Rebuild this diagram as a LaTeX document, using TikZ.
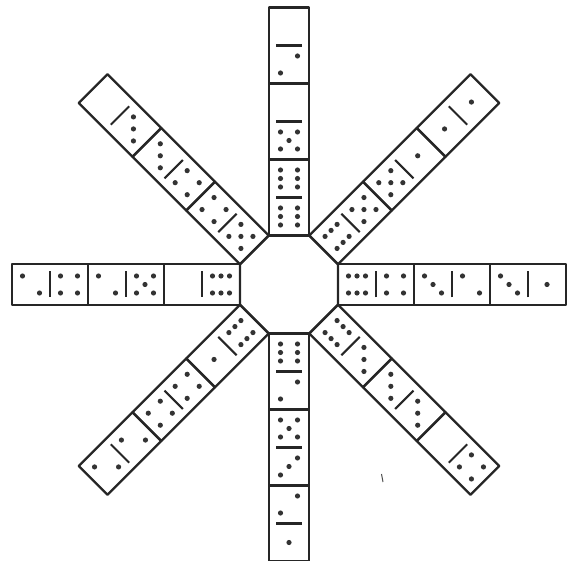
\documentclass[tikz,border=0pt]{standalone}
\usetikzlibrary{calc}

% pip layout inside one half of a domino (along arm, across arm)
\newcommand{\pipgap}{8.5}
\newcommand{\pip}[3]{\fill[pipdot] ({#1+(#2)*\pipgap},{(#3)*\pipgap}) circle[radius=2.6];}
\newcommand{\pipface}[2]{%
  \ifcase#2\relax
  \or \pip{#1}{0}{0}%
  \or \pip{#1}{1}{-1}\pip{#1}{-1}{1}%
  \or \pip{#1}{1}{-1}\pip{#1}{0}{0}\pip{#1}{-1}{1}%
  \or \pip{#1}{1}{1}\pip{#1}{1}{-1}\pip{#1}{-1}{1}\pip{#1}{-1}{-1}%
  \or \pip{#1}{1}{1}\pip{#1}{1}{-1}\pip{#1}{-1}{1}\pip{#1}{-1}{-1}\pip{#1}{0}{0}%
  \or \foreach \i in {-1,0,1}{\pip{#1}{\i}{1}\pip{#1}{\i}{-1}}%
  \fi}

\begin{document}
\begin{tikzpicture}[
    x=1pt, y=1pt,
    outline/.style={draw=black!85, line width=2.3pt, line join=round},
    divider/.style={draw=black!85, line width=2.1pt},
    pipdot/.style={fill=black!80},
]
\useasboundingbox (0,0) rectangle (570,560);
\clip (0,0) rectangle (570,560);

\coordinate (hub) at (289,275.5);

% Centre octagon
\draw[outline, shift={(hub)}] (22.5:53.04)
    \foreach \k in {1,...,7}{ -- ({22.5+45*\k}:53.04) } -- cycle;

% Arms: angle / faces from the octagon outwards
\foreach \ang/\faces in {90/{6,6,5,0,2,0}, 45/{6,5,5,1,1,1},
                         0/{6,4,3,2,3,1}, -45/{6,3,3,3,0,4},
                         -90/{6,2,5,3,2,1}, -135/{6,1,4,4,2,2},
                         180/{6,0,5,2,4,2}, 135/{5,4,4,3,3,0}}{
  \begin{scope}[shift={(hub)}, rotate=\ang]
    \foreach \d in {0,1,2}{
      \draw[outline] ({49+76*\d},-20.3) rectangle ({125+76*\d},20.3);
      \draw[divider] ({87+76*\d},-13) -- ({87+76*\d},13);
    }
    \foreach \n [count=\k] in \faces{
      \pgfmathsetmacro{\c}{30+38*\k}
      \pipface{\c}{\n}
    }
  \end{scope}
}

% stray mark
\draw[line width=1pt, black!70] (381.5,86) -- (383,78);

\end{tikzpicture}
\end{document}
